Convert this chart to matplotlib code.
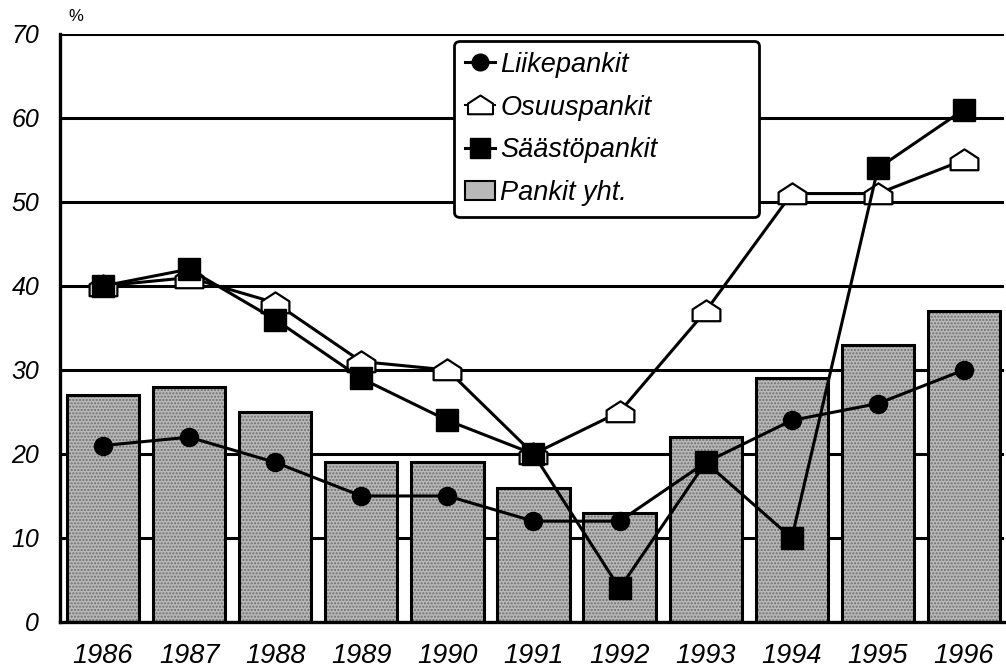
import numpy as np
import matplotlib
matplotlib.use("Agg")
import matplotlib.pyplot as plt
from matplotlib.path import Path
from matplotlib.patches import Patch
from matplotlib.lines import Line2D

plt.rcParams['font.family'] = ['Liberation Sans', 'DejaVu Sans']

years = ["1986", "1987", "1988", "1989", "1990", "1991", "1992", "1993", "1994", "1995", "1996"]
pankit_yht = [27, 28, 25, 19, 19, 16, 13, 22, 29, 33, 37]
liikepankit = [21, 22, 19, 15, 15, 12, 12, 19, 24, 26, 30]
osuuspankit = [40, 41, 38, 31, 30, 20, 25, 37, 51, 51, 55]
saastopankit = [40, 42, 36, 29, 24, 20, 4, 19, 10, 54, 61]
yticks = [0, 10, 20, 30, 40, 50, 60, 70]

# house-shaped marker for Osuuspankit
house = Path([(-1, -0.7), (1, -0.7), (1, 0.15), (0, 0.8), (-1, 0.15), (-1, -0.7)],
             [Path.MOVETO, Path.LINETO, Path.LINETO, Path.LINETO, Path.LINETO, Path.CLOSEPOLY])

fig = plt.figure(figsize=(10.06, 6.67), dpi=100)
ax = fig.add_axes([0.0596, 0.0675, 0.938, 0.8816])

x = np.arange(len(years))

for v in yticks[1:]:
    ax.axhline(v, color='black', lw=2.2, zorder=0)

# stippled gray bars
ax.bar(x, pankit_yht, width=0.84, color='#b8b8b8', hatch='.....', edgecolor='#6e6e6e',
       linewidth=0, zorder=1)
ax.bar(x, pankit_yht, width=0.84, facecolor='none', edgecolor='black', linewidth=2.2, zorder=2)

ax.plot(x, osuuspankit, color='black', lw=2.2, marker=house, markersize=20,
        markerfacecolor='white', markeredgecolor='black', markeredgewidth=1.6, zorder=3)
ax.plot(x, liikepankit, color='black', lw=2.2, marker='o', markersize=13,
        markerfacecolor='black', zorder=4)
ax.plot(x, saastopankit, color='black', lw=2.2, marker='s', markersize=16,
        markerfacecolor='black', zorder=5)

ax.set_xlim(-0.5, 10.46)
ax.set_ylim(0, 70)
ax.set_yticks(yticks)
ax.set_yticklabels([str(v) for v in yticks], fontsize=18, style='italic')
ax.set_xticks(x)
ax.set_xticklabels(years, fontsize=19.5, style='italic')
ax.tick_params(axis='x', length=0, pad=15)
ax.tick_params(axis='y', length=0, pad=15)

for s in ['top', 'right']:
    ax.spines[s].set_visible(False)
for s in ['left', 'bottom']:
    ax.spines[s].set_linewidth(2.4)

fig.text(0.068, 0.975, "%", fontsize=12, ha='left', va='center')

handles = [
    Line2D([], [], color='black', lw=2.2, marker='o', markersize=12),
    Line2D([], [], color='black', lw=1.5, marker=house, markersize=18,
           markerfacecolor='white', markeredgewidth=1.5),
    Line2D([], [], color='black', lw=2.2, marker='s', markersize=14),
    Patch(facecolor='#b8b8b8', edgecolor='black', linewidth=1.5),
]
labels = ["Liikepankit", "Osuuspankit", "Säästöpankit", "Pankit yht."]
leg = ax.legend(handles, labels, loc='upper left', bbox_to_anchor=(0.418, 0.988, 0.323, 0.0),
                mode='expand', prop={'size': 19.5, 'style': 'italic'}, frameon=True,
                fancybox=True, handlelength=1.1, handletextpad=0.2, labelspacing=0.62,
                borderpad=0.4, borderaxespad=0)
leg.get_frame().set_edgecolor('black')
leg.get_frame().set_linewidth(2)
leg.get_frame().set_alpha(1)
leg.set_zorder(10)

fig.savefig("out.png", dpi=100)
